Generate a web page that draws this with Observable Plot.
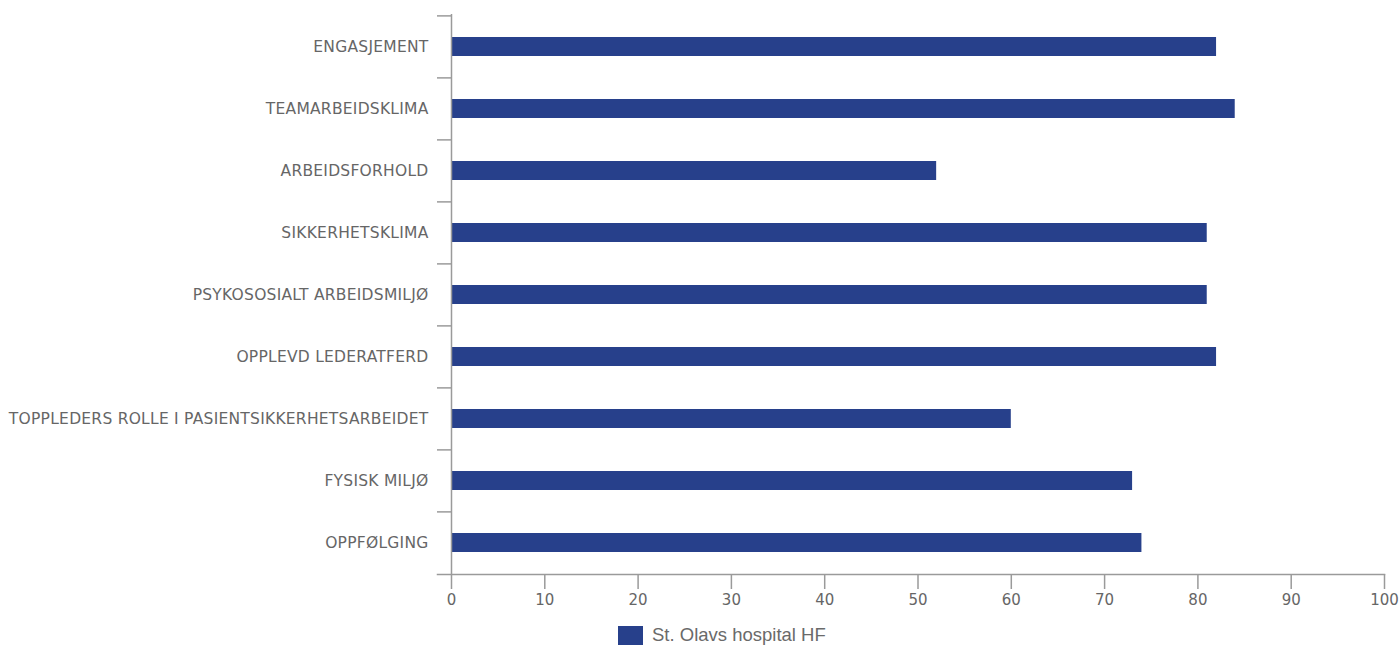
<!DOCTYPE html>
<html>
<head>
<meta charset="utf-8">
<script src="https://cdn.jsdelivr.net/npm/d3@7"></script>
<script src="https://cdn.jsdelivr.net/npm/@observablehq/plot@0.6"></script>
<style>
  html, body { margin: 0; padding: 0; background: #fff; }
  #chart { position: relative; width: 1399px; height: 645px; overflow: hidden; }
  #legend { position: absolute; left: 618px; top: 623px; display: flex; align-items: center; font-family: "Liberation Sans", Arial, sans-serif; font-size: 18.5px; color: #6a6a6a; }
  #legend .sw { width: 25px; height: 20px; background: #27408b; margin-right: 9px; margin-top: 3px; }
  .ylab text { letter-spacing: 0.25px; }
</style>
</head>
<body>
<div id="chart"></div>
<script>
const categories = [
  "ENGASJEMENT",
  "TEAMARBEIDSKLIMA",
  "ARBEIDSFORHOLD",
  "SIKKERHETSKLIMA",
  "PSYKOSOSIALT ARBEIDSMILJØ",
  "OPPLEVD LEDERATFERD",
  "TOPPLEDERS ROLLE I PASIENTSIKKERHETSARBEIDET",
  "FYSISK MILJØ",
  "OPPFØLGING"
];
const values = [82, 84, 52, 81, 81, 82, 60, 73, 74];
const xTicks = [0, 10, 20, 30, 40, 50, 60, 70, 80, 90, 100];
const seriesName = "St. Olavs hospital HF";

const data = categories.map((c, i) => ({category: c, value: values[i]}));

const height = 618, marginTop = 14, marginBottom = height - 574;
const step = (height - marginTop - marginBottom) / categories.length;
const gray = "#9a9a9a";
const barColor = "#27408b";

const plot = Plot.plot({
  width: 1399,
  height,
  marginLeft: 437,
  marginRight: 15,
  marginTop,
  marginBottom,
  style: {fontFamily: "'DejaVu Sans', sans-serif", fontSize: "14px", color: "#666"},
  x: {domain: [-1.5, 100], label: null},
  y: {domain: categories, paddingInner: 0.695, paddingOuter: 0.3475, label: null},
  marks: [
    Plot.barX(data, {x1: 0, x2: "value", y: "category", fill: barColor}),
    Plot.ruleX([0], {stroke: gray, strokeWidth: 1.5}),
    Plot.ruleY(categories, {y: d => d, x1: -1.5, x2: 0, dy: -step / 2, stroke: gray, strokeWidth: 1.5}),
    Plot.frame({anchor: "bottom", stroke: gray, strokeWidth: 1.5}),
    Plot.axisX({ticks: xTicks, tickSize: 15, tickPadding: 5, stroke: gray, strokeWidth: 1.5, label: null, fill: "#666", fontSize: 15}),
    Plot.axisY({tickSize: 0, tickPadding: 9, label: null, fill: "#666", fontSize: 15.5, className: "ylab"})
  ]
});
const chart = document.getElementById("chart");
chart.appendChild(plot);
const legend = document.createElement("div");
legend.id = "legend";
legend.innerHTML = `<div class="sw"></div><span></span>`;
legend.querySelector("span").textContent = seriesName;
chart.appendChild(legend);
</script>
</body>
</html>
